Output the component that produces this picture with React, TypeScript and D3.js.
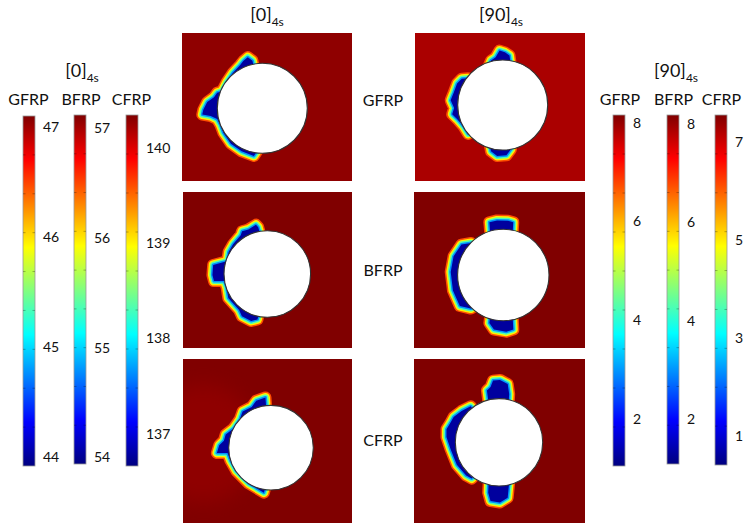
import React from "react";
import * as d3 from "d3";

const W = 744;
const H = 523;

// colour bar ticks and value ranges, [0]4s laminates
const gfrp0Ticks = [44, 45, 46, 47];
const gfrp0Range = [43.92, 47.1];
const bfrp0Ticks = [54, 55, 56, 57];
const bfrp0Range = [53.94, 57.12];
const cfrp0Ticks = [137, 138, 139, 140];
const cfrp0Range = [136.66, 140.35];

// colour bar ticks and value ranges, [90]4s laminates
const gfrp90Ticks = [2, 4, 6, 8];
const gfrp90Range = [1.04, 8.16];
const bfrp90Ticks = [2, 4, 6, 8];
const bfrp90Range = [1.09, 8.18];
const cfrp90Ticks = [1, 3, 5, 7];
const cfrp90Range = [0.41, 7.55];

const materials = ["GFRP", "BFRP", "CFRP"];

// damage zones round the hole: [angle in degrees ccw from +x, radius / hole radius]
const gfrp0Zones = [
  [[101.7, 1.17], [105.9, 1.27], [112, 1.22], [117, 1.17], [130, 1.11], [144, 1.07], [157, 1.06],
   [161, 1.15], [167, 1.19], [173.5, 1.32], [181.5, 1.4], [186, 1.43], [188.5, 1.25], [193.4, 1.12],
   [201.9, 1.09], [212, 1.11], [228.4, 1.14], [244.4, 1.15], [260, 1.165], [263, 1.05]],
];
const gfrp90Zones = [
  [[111, 0.95], [104.7, 1.11], [98.4, 1.16], [93.3, 1.3], [87.6, 1.26], [82.2, 1.2], [78.3, 0.98]],
  [[142.4, 1.06], [147.4, 1.17], [154.7, 1.21], [165.8, 1.21], [174.9, 1.25], [183.6, 1.17],
   [190.4, 1.23], [196.9, 1.15], [208.7, 1.08], [220, 1.09], [222, 1.0]],
  [[251, 0.98], [255.8, 1.15], [263.8, 1.23], [274.2, 1.21], [280.5, 1.09], [282, 0.98]],
];
const bfrp0Zones = [
  [[100, 1.0], [101, 1.19], [103, 1.26], [113, 1.21], [120.5, 1.24], [124.4, 1.18], [139, 1.14],
   [150.4, 1.12], [162, 1.065], [164.6, 1.13], [170.5, 1.36], [181, 1.36], [187.6, 1.335],
   [189.2, 1.1], [197.8, 1.08], [211.6, 1.15], [232, 1.15], [239, 1.23], [251, 1.24],
   [257.8, 1.165], [258, 1.0]],
];
const bfrp90Zones = [
  [[108, 1.0], [104.8, 1.28], [96.5, 1.29], [85.1, 1.28], [79.3, 1.26], [77, 0.97]],
  [[135, 1.08], [144, 1.22], [159.4, 1.25], [176.6, 1.24], [197, 1.24], [215.5, 1.256],
   [226, 1.11], [228, 1.0]],
  [[252, 1.0], [253.8, 1.18], [260.3, 1.3], [273, 1.33], [280.4, 1.3], [283, 0.97]],
];
const cfrp0Zones = [
  [[97, 1.0], [96.3, 1.29], [107.4, 1.26], [115.3, 1.16], [128.2, 1.18], [137.9, 1.09],
   [152.9, 1.09], [163.8, 1.21], [171.5, 1.22], [177.3, 1.32], [185.5, 1.38], [186.8, 1.13],
   [197.5, 1.1], [214.3, 1.08], [238, 1.09], [261, 1.17], [262, 1.04]],
];
const cfrp90Zones = [
  [[105, 1.0], [103.1, 1.31], [98.7, 1.37], [95.5, 1.51], [89.1, 1.52], [81.5, 1.44], [78.1, 1.22], [76, 1.0]],
  [[128.2, 1.14], [140, 1.21], [150.8, 1.28], [158.5, 1.29], [166, 1.33], [174.3, 1.3],
   [188.3, 1.21], [208, 1.185], [225.3, 1.16], [233, 1.13], [234, 1.0]],
  [[255, 1.0], [257.9, 1.27], [261.8, 1.45], [270.9, 1.47], [278.9, 1.375], [284, 1.05]],
];

// far-field level of each panel on the colour scale (0..1)
const panelLevels = [0.985, 0.958, 1, 1, 1, 1];

const clamp = (v: number) => Math.max(0, Math.min(1, v));
const jet = (t: number) =>
  d3.rgb(
    255 * clamp(1.5 - Math.abs(4 * t - 3)),
    255 * clamp(1.5 - Math.abs(4 * t - 2)),
    255 * clamp(1.5 - Math.abs(4 * t - 1))
  ).formatHex();

const FONT = "Lato, 'Open Sans', sans-serif";

// panel frames and hole geometry, in pixels
const panels = [
  { x0: 182, x1: 352, y0: 33, y1: 181, cx: 262.3, cy: 108.3, r: 45, zones: gfrp0Zones },
  { x0: 415, x1: 585, y0: 33, y1: 181, cx: 502.7, cy: 105, r: 45, zones: gfrp90Zones },
  { x0: 183, x1: 352, y0: 192, y1: 348, cx: 267.3, cy: 274, r: 43.3, zones: bfrp0Zones },
  { x0: 414, x1: 585, y0: 192, y1: 348, cx: 503.3, cy: 275, r: 45.7, zones: bfrp90Zones },
  { x0: 183, x1: 352, y0: 359, y1: 523, cx: 271, cy: 447.7, r: 42.3, zones: cfrp0Zones },
  { x0: 414, x1: 585, y0: 359, y1: 523, cx: 499, cy: 442.3, r: 43.7, zones: cfrp90Zones },
];

const bands = [
  { w: 12, t: 0.8 },
  { w: 9, t: 0.64 },
  { w: 6, t: 0.45 },
  { w: 3, t: 0.27 },
];

const Panel = ({ p, level, idx }: any) => {
  const x = d3.scaleLinear().domain([-1, 1]).range([p.cx - p.r, p.cx + p.r]);
  const y = d3.scaleLinear().domain([-1, 1]).range([p.cy + p.r, p.cy - p.r]);
  const inset = 4 / p.r;
  const line = d3.line().curve(d3.curveLinearClosed);
  const rad = Math.PI / 180;

  const paths = p.zones.map((zone: number[][]) => {
    const outer = zone.map(([a, r]) => [a, Math.max(r - inset, 0.9)]);
    const a0 = zone[0][0];
    const a1 = zone[zone.length - 1][0];
    const inner = d3.range(0, 13).map((i) => [a1 + ((a0 - a1) * i) / 12, 0.85]);
    const pts = [...outer, ...inner].map(([a, r]) => [x(r * Math.cos(a * rad)), y(r * Math.sin(a * rad))]);
    return line(pts as [number, number][]);
  });

  return (
    <g>
      <rect x={p.x0} y={p.y0} width={p.x1 - p.x0} height={p.y1 - p.y0} fill={jet(level)} />
      {idx === 4 && (
        <ellipse cx={x(-1.6)} cy={y(0.1)} rx={p.r * 1.3} ry={p.r * 1.4} fill="#9a0000" opacity={0.6} filter="url(#soft)" />
      )}
      {bands.map((b, i) => (
        <g key={i}>
          {paths.map((d: string, j: number) => (
            <path key={j} d={d} fill="none" stroke={jet(b.t)} strokeWidth={b.w} strokeLinejoin="round" />
          ))}
        </g>
      ))}
      {paths.map((d: string, j: number) => (
        <path key={j} d={d} fill={jet(0.03)} stroke="none" />
      ))}
      <circle cx={x(0)} cy={y(0)} r={p.r} fill="#fff" stroke="#333" strokeWidth={1.1} />
    </g>
  );
};

const ColorBar = ({ x, top, bottom, domain, ticks, id }: any) => {
  const w = 12;
  const y = d3.scaleLinear().domain(domain).range([bottom, top]);
  const stops = d3.range(0, 41).map((i) => i / 40);
  const marks = d3.range(1, 9).map((i) => top + (i * (bottom - top)) / 9);
  return (
    <g>
      <defs>
        <linearGradient id={id} x1="0" y1="1" x2="0" y2="0">
          {stops.map((s) => (
            <stop key={s} offset={s} stopColor={jet(s)} />
          ))}
        </linearGradient>
      </defs>
      <rect x={x} y={top} width={w} height={bottom - top} fill={`url(#${id})`} stroke="#9a9a9a" strokeWidth={0.8} />
      {marks.map((m) => (
        <g key={m} stroke="#000" strokeOpacity={0.35} strokeWidth={0.8}>
          <line x1={x} x2={x + 2.5} y1={m} y2={m} />
          <line x1={x + w - 2.5} x2={x + w} y1={m} y2={m} />
        </g>
      ))}
      {ticks.map((t: number) => (
        <text key={t} x={x + w + 8} y={y(t)} dy="0.35em" fontSize={14} fontFamily={FONT} fill="#111">
          {t}
        </text>
      ))}
    </g>
  );
};

const Title = ({ x, y, main }: any) => (
  <text x={x} y={y} textAnchor="middle" fontSize={18} fontFamily={FONT} fill="#111">
    {main}
    <tspan fontSize={12} dy={5}>4s</tspan>
  </text>
);

const App = () => {
  const leftBars = [
    { x: 23, top: 116, bottom: 466, domain: gfrp0Range, ticks: gfrp0Ticks, lx: 28.5 },
    { x: 74, top: 115, bottom: 464, domain: bfrp0Range, ticks: bfrp0Ticks, lx: 81 },
    { x: 126, top: 115, bottom: 466, domain: cfrp0Range, ticks: cfrp0Ticks, lx: 131.5 },
  ];
  const rightBars = [
    { x: 613, top: 115, bottom: 466, domain: gfrp90Range, ticks: gfrp90Ticks, lx: 620 },
    { x: 667, top: 115, bottom: 464, domain: bfrp90Range, ticks: bfrp90Ticks, lx: 673.5 },
    { x: 715, top: 115, bottom: 465, domain: cfrp90Range, ticks: cfrp90Ticks, lx: 721.5 },
  ];
  const rowY = [106, 276, 446];

  return (
    <svg width={W} height={H} style={{ position: "absolute", left: 0, top: 0, background: "#fff" }}>
      <defs>
        <filter id="soft" x="-50%" y="-50%" width="200%" height="200%">
          <feGaussianBlur stdDeviation={10} />
        </filter>
        {panels.map((p, i) => (
          <clipPath id={`clip${i}`} key={i}>
            <rect x={p.x0} y={p.y0} width={p.x1 - p.x0} height={p.y1 - p.y0} />
          </clipPath>
        ))}
      </defs>

      {panels.map((p, i) => (
        <g key={i} clipPath={`url(#clip${i})`}>
          <Panel p={p} level={panelLevels[i]} idx={i} />
        </g>
      ))}

      <Title x={267} y={21} main="[0]" />
      <Title x={501} y={21} main="[90]" />

      {materials.map((m, i) => (
        <text key={m} x={383} y={rowY[i]} textAnchor="middle" fontSize={16} fontFamily={FONT} fill="#111">
          {m}
        </text>
      ))}

      <Title x={82} y={77} main="[0]" />
      <Title x={676} y={77} main="[90]" />

      {leftBars.map((b, i) => (
        <g key={`l${i}`}>
          <text x={b.lx} y={105} textAnchor="middle" fontSize={16} fontFamily={FONT} fill="#111">
            {materials[i]}
          </text>
          <ColorBar id={`gl${i}`} {...b} />
        </g>
      ))}
      {rightBars.map((b, i) => (
        <g key={`r${i}`}>
          <text x={b.lx} y={105} textAnchor="middle" fontSize={16} fontFamily={FONT} fill="#111">
            {materials[i]}
          </text>
          <ColorBar id={`gr${i}`} {...b} />
        </g>
      ))}
    </svg>
  );
};

export default App;
